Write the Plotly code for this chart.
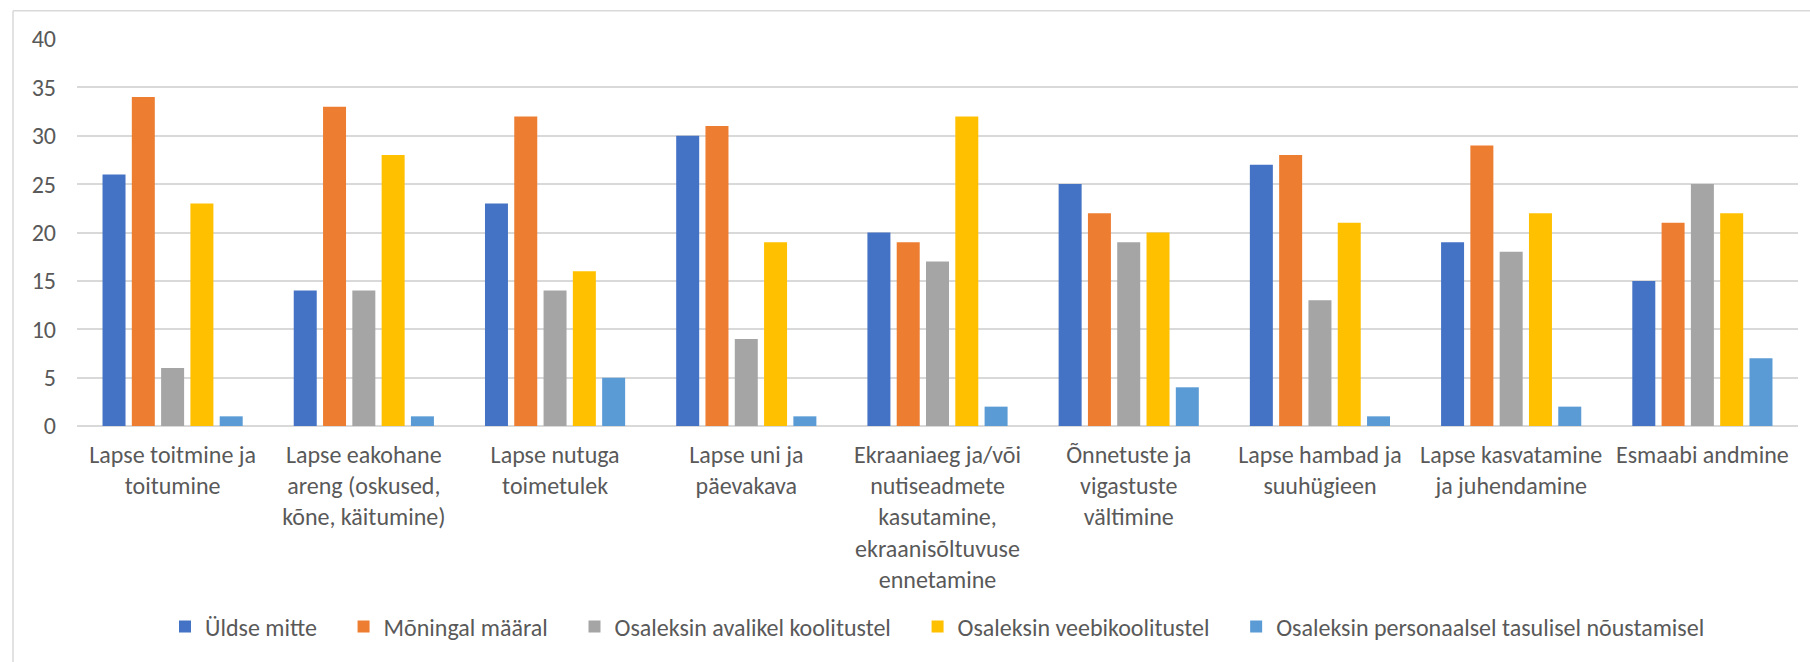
import plotly.graph_objects as go

categories = [
    "Lapse toitmine ja<br>toitumine",
    "Lapse eakohane<br>areng (oskused,<br>kõne, käitumine)",
    "Lapse nutuga<br>toimetulek",
    "Lapse uni ja<br>päevakava",
    "Ekraaniaeg ja/või<br>nutiseadmete<br>kasutamine,<br>ekraanisõltuvuse<br>ennetamine",
    "Õnnetuste ja<br>vigastuste<br>vältimine",
    "Lapse hambad ja<br>suuhügieen",
    "Lapse kasvatamine<br>ja juhendamine",
    "Esmaabi andmine",
]

uldse_mitte = [26, 14, 23, 30, 20, 25, 27, 19, 15]
moningal_maaral = [34, 33, 32, 31, 19, 22, 28, 29, 21]
avalikel_koolitustel = [6, 14, 14, 9, 17, 19, 13, 18, 25]
veebikoolitustel = [23, 28, 16, 19, 32, 20, 21, 22, 22]
personaalsel_noustamisel = [1, 1, 5, 1, 2, 4, 1, 2, 7]

series_names = [
    "Üldse mitte",
    "Mõningal määral",
    "Osaleksin avalikel koolitustel",
    "Osaleksin veebikoolitustel",
    "Osaleksin personaalsel tasulisel nõustamisel",
]
series_values = [uldse_mitte, moningal_maaral, avalikel_koolitustel,
                 veebikoolitustel, personaalsel_noustamisel]
colors = ["#4472C4", "#ED7D31", "#A5A5A5", "#FFC000", "#5B9BD5"]

y_ticks = [0, 5, 10, 15, 20, 25, 30, 35, 40]

FONT = "Calibri, Carlito, Lato, sans-serif"
TXT = "#595959"
FS = 24
PAD = "\u00a0" * 4  # extra spacing between legend entries, like the original

fig = go.Figure()
n = len(series_names)
for i, (name, vals, col) in enumerate(zip(series_names, series_values, colors)):
    label = name + (PAD if i < n - 1 else "")
    fig.add_trace(go.Bar(x=categories, y=vals, name=label,
                         hovertemplate=name + ": %{y}<extra></extra>",
                         marker=dict(color=col, line=dict(width=0))))

W, H = 1810, 662
L, R, T, B = 77, 12, 39, 234
pw, ph = W - L - R, H - T - B

def px_x(p):
    return (p - L) / pw

def px_y(p):
    return (H - B - p) / ph

fig.update_layout(
    width=W, height=H,
    margin=dict(l=L, r=R, t=T, b=B, pad=0),
    paper_bgcolor="white", plot_bgcolor="white",
    barmode="group", bargap=0.234, bargroupgap=0.215,
    font=dict(family=FONT, size=FS, color=TXT),
    showlegend=True,
    legend=dict(orientation="h", x=0.5, xanchor="center",
                y=px_y(630), yanchor="middle",
                font=dict(family=FONT, size=FS, color=TXT),
                bgcolor="rgba(0,0,0,0)", traceorder="normal"),
    xaxis=dict(type="category", showgrid=False, showline=False,
               ticks="", tickfont=dict(family=FONT, size=FS, color=TXT),
               ticklabelstandoff=12, zeroline=False, tickangle=0),
    yaxis=dict(range=[0, 40], tickvals=y_ticks, showgrid=True,
               gridcolor="#D9D9D9", gridwidth=1.5, zeroline=True,
               zerolinecolor="#D9D9D9", zerolinewidth=1.5, showline=False,
               ticks="", tickfont=dict(family=FONT, size=FS, color=TXT),
               ticklabelstandoff=20),
    shapes=[
        dict(type="line", xref="paper", yref="paper",
             x0=px_x(13), x1=px_x(1815), y0=px_y(10.5), y1=px_y(10.5),
             line=dict(color="#D9D9D9", width=1.5)),
        dict(type="line", xref="paper", yref="paper",
             x0=px_x(13), x1=px_x(13), y0=px_y(10.5), y1=px_y(670),
             line=dict(color="#D9D9D9", width=1.5)),
    ],
)

fig.write_html("out.html", config={"displayModeBar": False},
               post_script="document.body.style.margin='0';document.body.style.overflow='hidden';")
